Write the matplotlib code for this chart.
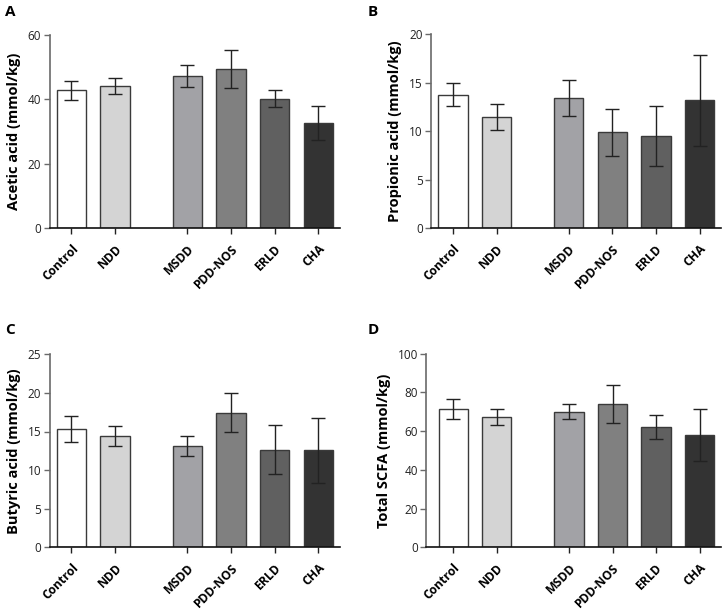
import matplotlib
matplotlib.use("Agg")
import matplotlib.pyplot as plt
import numpy as np

plt.rcParams['font.family'] = ['Open Sans', 'DejaVu Sans']

groups = ["Control", "NDD", "MSDD", "PDD-NOS", "ERLD", "CHA"]
positions = [0, 1, 2.66, 3.66, 4.66, 5.66]
colors = ["#ffffff", "#d4d4d4", "#a2a2a6", "#808080", "#606060", "#333333"]

acetic_mean = [42.7, 44.0, 47.2, 49.3, 40.1, 32.5]
acetic_err = [2.9, 2.5, 3.4, 5.8, 2.6, 5.3]
propionic_mean = [13.78, 11.48, 13.4, 9.9, 9.55, 13.2]
propionic_err = [1.15, 1.35, 1.85, 2.4, 3.1, 4.7]
butyric_mean = [15.37, 14.38, 13.17, 17.44, 12.65, 12.56]
butyric_err = [1.7, 1.28, 1.3, 2.5, 3.13, 4.17]
total_mean = [71.6, 67.5, 70.05, 74.0, 62.1, 58.0]
total_err = [5.1, 4.1, 3.8, 10.0, 6.0, 13.3]

panels = [
    ("A", "Acetic acid (mmol/kg)", acetic_mean, acetic_err, 60, [0, 20, 40, 60]),
    ("B", "Propionic acid (mmol/kg)", propionic_mean, propionic_err, 20, [0, 5, 10, 15, 20]),
    ("C", "Butyric acid (mmol/kg)", butyric_mean, butyric_err, 25, [0, 5, 10, 15, 20, 25]),
    ("D", "Total SCFA (mmol/kg)", total_mean, total_err, 100, [0, 20, 40, 60, 80, 100]),
]

W, H = 726, 611
fig = plt.figure(figsize=(W / 100, H / 100), dpi=100)

# axes boxes in pixels: (left, top, right, bottom), xlim left
boxes = [
    (49.7, 34.5, 340.0, 228.3, -0.5),
    (431.3, 34.3, 721.3, 228.3, -0.5),
    (49.7, 354.3, 340.0, 547.3, -0.5),
    (426.3, 353.7, 721.3, 547.3, -0.62),
]
letter_pos = [(5, 5), (368, 5), (5, 323), (368, 323)]

for (letter, ylabel, mean, err, ymax, yticks), (l, t, r, b, xl), (lx, ly) in zip(panels, boxes, letter_pos):
    ax = fig.add_axes([l / W, 1 - b / H, (r - l) / W, (b - t) / H])
    ax.bar(positions, mean, width=0.67, color=colors, edgecolor="#3a3a3a", linewidth=1.0, zorder=2)
    ax.errorbar(positions, mean, yerr=err, fmt="none", ecolor="#222222", elinewidth=1.0,
                capsize=5.2, capthick=1.0, zorder=3)
    ax.set_xlim(xl, 6.16)
    ax.set_ylim(0, ymax)
    ax.set_yticks(yticks)
    ax.set_xticks(positions)
    ax.set_xticklabels(groups, rotation=45, ha="right", rotation_mode="anchor",
                       fontsize=8.7, fontweight="bold")
    ax.tick_params(axis="x", length=4, width=1, color="#222222", pad=6)
    ax.tick_params(axis="y", length=4, width=1, color="#6a6a6a", labelsize=8.5, pad=2)
    for lab in ax.get_yticklabels():
        lab.set_color("#222222")
    ax.spines["top"].set_visible(False)
    ax.spines["right"].set_visible(False)
    ax.spines["left"].set_color("#6a6a6a")
    ax.spines["left"].set_linewidth(1.2)
    ax.spines["bottom"].set_color("#111111")
    ax.spines["bottom"].set_linewidth(1.2)
    ax.set_ylabel(ylabel, fontsize=10.5, fontweight="bold", labelpad=5)
    fig.text(lx / W, 1 - ly / H, letter, fontsize=11, fontweight="bold", va="top", ha="left")

fig.savefig("out.png", dpi=100)
